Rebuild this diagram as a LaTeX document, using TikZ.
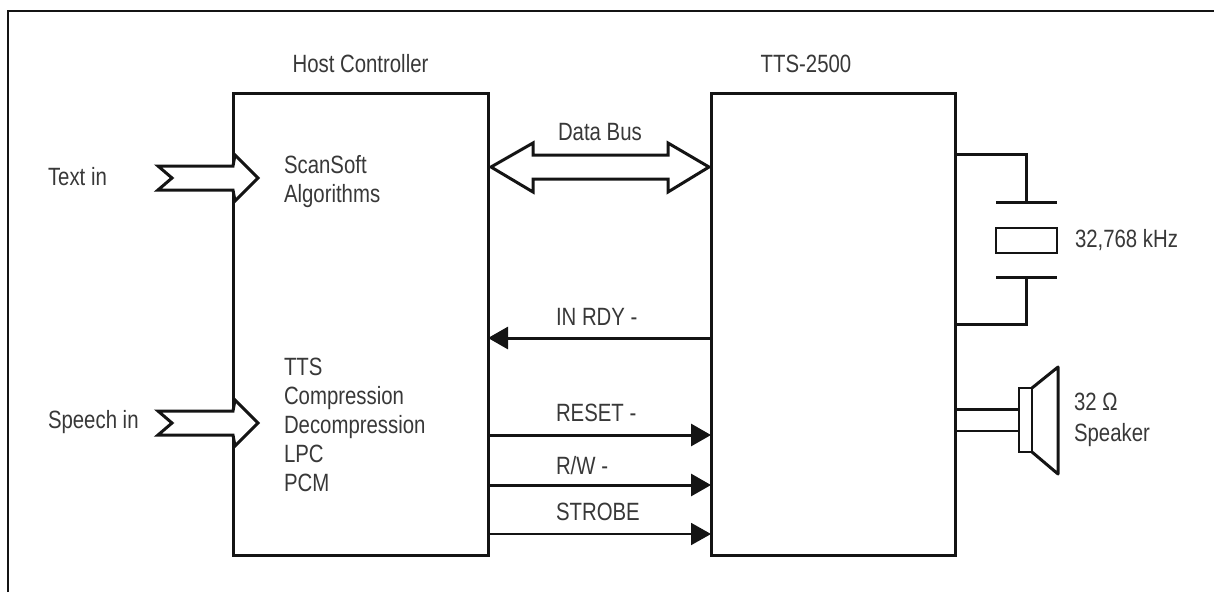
\documentclass[tikz,border=0pt]{standalone}
\usepackage{fontspec}
\setmainfont[FakeStretch=0.815]{Liberation Sans}
\usetikzlibrary{arrows.meta, positioning}
\definecolor{ink}{gray}{0.08}
\definecolor{txt}{gray}{0.22}
\tikzset{
x=1pt, y=-1pt, % one unit is one pixel of the sheet
>={Triangle[length=20pt, width=22pt]}, % makes the arrow heads bold
every node/.style={font=\fontsize{25}{29}\selectfont, text=txt, inner sep=0pt, outer sep=0pt},
block/.style={draw=ink, line width=3pt, minimum width=#1, minimum height=462pt, anchor=north west},
wire/.style={draw=ink, line width=3pt},
fat/.style={draw=ink, fill=white, line width=3pt, miter limit=3},
label/.style={align=left, anchor=west},
inarrow/.pic={
\draw[fat] (-75,-12) -- (0,-12) -- (2,-23) -- (25,0) -- (2,23) -- (0,12) -- (-75,12) -- (-61,0) -- cycle;
},
}
\begin{document}
\begin{tikzpicture}
\useasboundingbox (0,0) rectangle (1214,592);
% frame
\draw[ink, line width=2pt] (8,592) -- (8,11) -- (1214,11);
% the two chips
\node[block=255pt] (host) at (233,93) {};
\node[block=244pt] (tts) at (711,93) {};
\node[above=21pt of host.north, anchor=base] (hostname) {Host Controller};
\node[above=21pt of tts.north, xshift=-27pt, anchor=base] (ttsname) {TTS-2500};
% signal levels
\coordinate (textin) at (0,178);
\coordinate (speechin) at (0,423);
\coordinate (bus) at (0,167);
\coordinate (rdy) at (0,338);
\coordinate (rst) at (0,435);
\coordinate (rw) at (0,485);
\coordinate (strb) at (0,534);
\coordinate (xt1) at (0,154);
\coordinate (xt2) at (0,324);
\coordinate (sp1) at (0,409);
\coordinate (sp2) at (0,431);
% inputs
\pic at (host.west |- textin) {inarrow};
\pic at (host.west |- speechin) {inarrow};
\node[label] (textlab) at (48,177) {Text in};
\node[label] (speechlab) at (48,422) {Speech in};
\node[label] (scansoft) at (284,182) {ScanSoft\\Algorithms};
\node[label] (ttslist) at (284,425) {TTS\\Compression\\Decompression\\LPC\\PCM};
% data bus
\draw[fat] ([xshift=3pt]host.east |- bus) -- (533,143) -- (533,155) -- (668,155) -- (668,143) -- ([xshift=-2pt]tts.west |- bus)
-- (668,192) -- (668,179) -- (533,179) -- (533,192) -- cycle;
\node[label] (buslab) at (558,132) {Data Bus};
% control lines
\draw[wire, ->] (tts.west |- rdy) -- (host.east |- rdy);
\draw[wire, ->] (host.east |- rst) -- (tts.west |- rst);
\draw[wire, ->] (host.east |- rw) -- (tts.west |- rw);
\draw[wire, line width=2pt, ->] (host.east |- strb) -- (tts.west |- strb);
\node[label] (rdylab) at (556,317) {IN RDY -};
\node[label] (rstlab) at (556,413) {RESET -};
\node[label] (rwlab) at (556,466) {R/W -};
\node[label] (strblab) at (556,512) {STROBE};
% crystal
\node[draw=ink, line width=2.4pt, minimum width=61pt, minimum height=25pt] (xtal) at (1026.5,240.5) {};
\node[label, right=18pt of xtal] (xtallab) {32,768 kHz};
\coordinate[above=26pt of xtal.north] (plateT);
\coordinate[below=24pt of xtal.south] (plateB);
\draw[wire] (plateT -| xtal.west) -- (plateT -| xtal.east);
\draw[wire] (plateB -| xtal.west) -- (plateB -| xtal.east);
\draw[wire] (tts.east |- xt1) -| (plateT);
\draw[wire] (tts.east |- xt2) -| (plateB);
% speaker
\node[draw=ink, line width=2.4pt, minimum width=13pt, minimum height=64pt] (coil) at (1025.5,420) {};
\draw[wire, line join=round] (coil.north east) -- (1058,367) -- (1058,474) -- (coil.south east);
\draw[wire] (tts.east |- sp1) -- (coil.west |- sp1);
\draw[ink, line width=1.2pt] (tts.east |- sp2) -- (coil.west |- sp2);
\node[label] (spklab) at (1074,420) {32 Ω\\[2pt]Speaker};
\end{tikzpicture}
\end{document}
